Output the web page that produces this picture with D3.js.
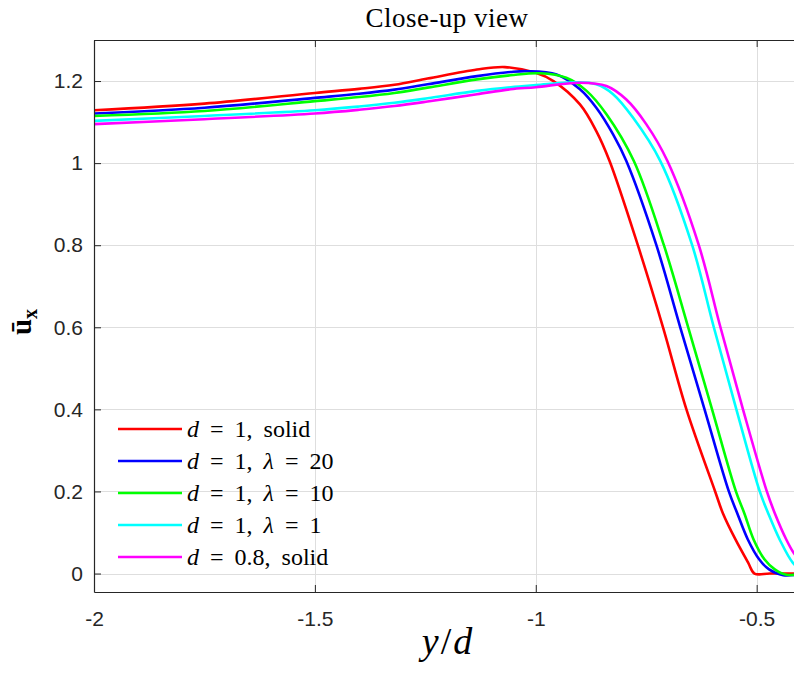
<!DOCTYPE html>
<html>
<head>
<meta charset="utf-8">
<script src="https://cdn.jsdelivr.net/npm/d3@7"></script>
<style>
  html, body { margin: 0; padding: 0; background: #fff; }
  svg { display: block; }
</style>
</head>
<body>
<div id="chart"></div>
<script>
//Datos: pares [y/d, u_x]
const solidD1 = [[-2, 1.129], [-1.75, 1.145], [-1.5, 1.171], [-1.4, 1.181], [-1.32, 1.191], [-1.245, 1.206], [-1.133, 1.228],
    [-1.07, 1.234], [-1.0, 1.22], [-0.96, 1.2], [-0.9, 1.143], [-0.863, 1.078], [-0.833, 1.005], [-0.769, 0.8],
    [-0.712, 0.6], [-0.659, 0.4], [-0.594, 0.2], [-0.5765, 0.147], [-0.548, 0.083], [-0.519, 0.026], [-0.505, 0],
    [-0.47, 0], [-0.4, 0]];
const lambda20 = [[-2, 1.121], [-1.75, 1.135], [-1.5, 1.159], [-1.4, 1.169], [-1.32, 1.179], [-1.245, 1.192], [-1.133, 1.212],
    [-1.057, 1.222], [-1.02, 1.224], [-0.953, 1.216], [-0.9, 1.18], [-0.863, 1.135], [-0.825, 1.07], [-0.795, 1.005],
    [-0.727, 0.8], [-0.673, 0.6], [-0.618, 0.4], [-0.563, 0.2], [-0.544, 0.147], [-0.52, 0.083], [-0.494, 0.034],
    [-0.472, 0.01], [-0.44, -0.004], [-0.4, -0.001]];
const lambda10 = [[-2, 1.115], [-1.75, 1.127], [-1.5, 1.151], [-1.4, 1.161], [-1.32, 1.171], [-1.245, 1.184], [-1.133, 1.204],
    [-1.057, 1.214], [-0.99, 1.219], [-0.931, 1.208], [-0.885, 1.176], [-0.84, 1.119], [-0.778, 1.005], [-0.71, 0.8],
    [-0.655, 0.6], [-0.601, 0.4], [-0.547, 0.2], [-0.528, 0.147], [-0.507, 0.083], [-0.482, 0.034], [-0.459, 0.01],
    [-0.433, -0.003], [-0.4, -0.001]];
const lambda1 = [[-2, 1.103], [-1.75, 1.115], [-1.5, 1.129], [-1.4, 1.138], [-1.32, 1.147], [-1.245, 1.158], [-1.133, 1.176],
    [-1.057, 1.185], [-1.0, 1.19], [-0.91, 1.197], [-0.863, 1.192], [-0.825, 1.168], [-0.78, 1.111], [-0.718, 1.005],
    [-0.646, 0.8], [-0.597, 0.6], [-0.546, 0.4], [-0.493, 0.2], [-0.474, 0.147], [-0.448, 0.083], [-0.418, 0.026], [-0.4, 0.01]];
const solidD08 = [[-2, 1.095], [-1.75, 1.107], [-1.5, 1.121], [-1.4, 1.13], [-1.32, 1.139], [-1.245, 1.15], [-1.133, 1.168],
    [-1.057, 1.18], [-1.0, 1.185], [-0.9, 1.196], [-0.84, 1.188], [-0.795, 1.155], [-0.75, 1.095], [-0.702, 1.005],
    [-0.631, 0.8], [-0.582, 0.6], [-0.531, 0.4], [-0.477, 0.2], [-0.459, 0.147], [-0.433, 0.083], [-0.416, 0.05], [-0.4, 0.03]];

const seriesData = [solidD1, lambda20, lambda10, lambda1, solidD08];
const seriesColors = ['#ff0000', '#0000ff', '#00ff00', '#00ffff', '#ff00ff'];
//Leyenda: [d, lambda o 'solid']
const legendLabels = [['1', 'solid'], ['1', '20'], ['1', '10'], ['1', '1'], ['0.8', 'solid']];

const xTicks = [-2, -1.5, -1, -0.5];
const xTickLabels = ['-2', '-1.5', '-1', '-0.5'];
const yTicks = [0, 0.2, 0.4, 0.6, 0.8, 1, 1.2];
const yTickLabels = ['0', '0.2', '0.4', '0.6', '0.8', '1', '1.2'];

const W = 794, H = 675;
const margin = {top: 40, right: 0, bottom: 83, left: 94};
const width = W - margin.left - margin.right,
    height = H - margin.top - margin.bottom;

const svg = d3.select('#chart').append('svg')
    .attr('width', W).attr('height', H);

const g = svg.append('g')
    .attr('transform', 'translate(' + margin.left + ',' + margin.top + ')');

const x = d3.scaleLinear().domain([-2, -0.4155]).range([0, width]);
const y = d3.scaleLinear().domain([-0.045, 1.3]).range([height, 0]);

const AXIS = '#262626', GRID = '#dedede';
const sans = "'Liberation Sans', Arial, sans-serif";
const serif = "'Liberation Serif', 'Times New Roman', serif";

//Rejilla
g.append('g').selectAll('line').data(xTicks).enter().append('line')
    .attr('x1', d => Math.round(x(d)) + 0.5).attr('x2', d => Math.round(x(d)) + 0.5)
    .attr('y1', 0).attr('y2', height)
    .attr('stroke', GRID).attr('stroke-width', 1);
g.append('g').selectAll('line').data(yTicks).enter().append('line')
    .attr('x1', 0).attr('x2', width)
    .attr('y1', d => Math.round(y(d)) + 0.5).attr('y2', d => Math.round(y(d)) + 0.5)
    .attr('stroke', GRID).attr('stroke-width', 1);

//Curvas
g.append('clipPath').attr('id', 'clip')
    .append('rect').attr('width', width).attr('height', height);

const line = d3.line()
    .x(d => x(d[0]))
    .y(d => y(d[1]))
    .curve(d3.curveCatmullRom.alpha(0.5));

g.append('g').attr('clip-path', 'url(#clip)')
    .selectAll('path').data(seriesData).enter().append('path')
    .attr('d', line)
    .attr('fill', 'none')
    .attr('stroke', (d, i) => seriesColors[i])
    .attr('stroke-width', 2.6)
    .attr('stroke-linejoin', 'round');

//Ejes (ticks hacia dentro, estilo caja)
const tickLen = 7;
const xAxis = g.append('g').attr('transform', 'translate(0,' + height + ')')
    .call(d3.axisBottom(x).tickValues(xTicks).tickFormat((d, i) => xTickLabels[i]).tickSizeInner(-tickLen).tickSizeOuter(0).tickPadding(19));
const yAxis = g.append('g')
    .call(d3.axisLeft(y).tickValues(yTicks).tickFormat((d, i) => yTickLabels[i]).tickSizeInner(-tickLen).tickSizeOuter(0).tickPadding(11));
const topAxis = g.append('g')
    .call(d3.axisTop(x).tickValues(xTicks).tickFormat('').tickSizeInner(-tickLen).tickSizeOuter(0));

[xAxis, yAxis, topAxis].forEach(function(a) {
    a.select('.domain').attr('stroke', AXIS).attr('stroke-width', 1.2);
    a.selectAll('.tick line').attr('stroke', AXIS);
    a.selectAll('text').attr('fill', AXIS).style('font-family', sans).style('font-size', '21px');
});
xAxis.selectAll('text').attr('dy', '0.71em');

//Titulo
svg.append('text')
    .attr('x', 447).attr('y', 27)
    .attr('text-anchor', 'middle')
    .style('font-family', serif).style('font-size', '27px').style('letter-spacing', '0.5px')
    .attr('fill', '#000')
    .text('Close-up view');

//Etiqueta eje X
const xl = svg.append('text')
    .attr('x', 448).attr('y', 654)
    .attr('text-anchor', 'middle')
    .style('font-family', serif).style('font-size', '38px').style('font-style', 'italic')
    .style('letter-spacing', '2px');
xl.append('tspan').text('y');
xl.append('tspan').style('font-style', 'normal').text('/');
xl.append('tspan').text('d');

//Etiqueta eje Y
const yl = svg.append('text')
    .attr('transform', 'translate(31,322) rotate(-90)')
    .attr('text-anchor', 'middle')
    .style('font-family', serif).style('font-weight', 'bold').style('font-size', '29px');
yl.append('tspan').text('ū');
yl.append('tspan').attr('dy', 6).style('font-size', '20px').text('x');

//Leyenda
const legend = g.append('g').attr('transform', 'translate(' + (118 - margin.left) + ',' + (429 - margin.top) + ')');
const rows = legend.selectAll('g').data(legendLabels).enter().append('g')
    .attr('transform', (d, i) => 'translate(0,' + (i * 32) + ')');
rows.append('line')
    .attr('x1', 0).attr('x2', 64).attr('y1', 0).attr('y2', 0)
    .attr('stroke', (d, i) => seriesColors[i]).attr('stroke-width', 2.6);
const lt = rows.append('text')
    .attr('x', 69).attr('y', 8)
    .style('font-family', serif).style('font-size', '24px').style('word-spacing', '5px').attr('fill', '#000');
lt.each(function(d) {
    const t = d3.select(this);
    t.append('tspan').style('font-style', 'italic').text('d');
    t.append('tspan').text(' = ' + d[0] + ', ');
    if (d[1] === 'solid') {
        t.append('tspan').text('solid');
    } else {
        t.append('tspan').style('font-style', 'italic').text('λ');
        t.append('tspan').text(' = ' + d[1]);
    }
});
</script>
</body>
</html>
